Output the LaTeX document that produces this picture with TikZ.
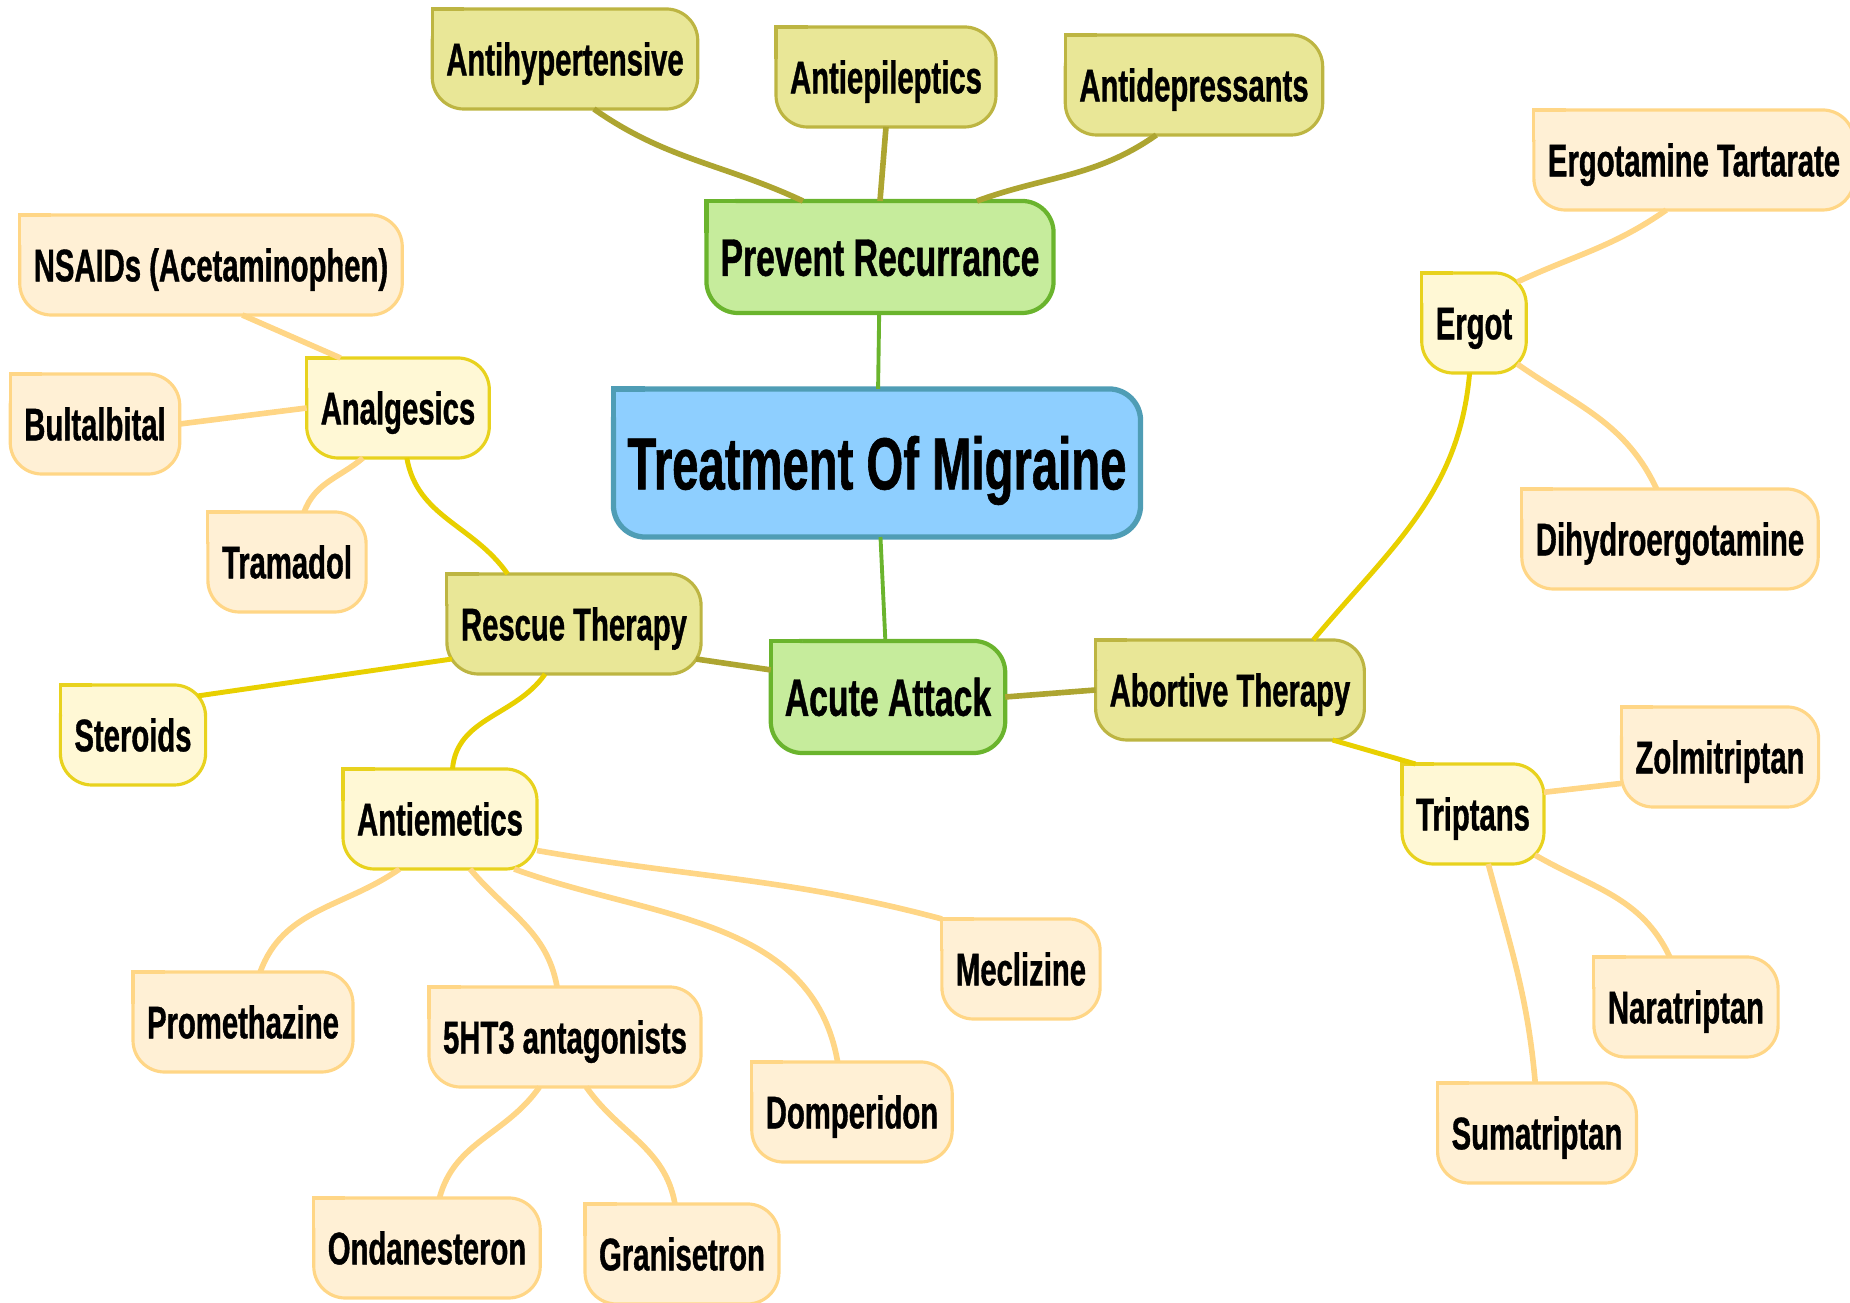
\documentclass[tikz,border=0pt]{standalone}
\usepackage{fontspec}
\setmainfont{Liberation Sans}[FakeStretch=0.64, BoldFeatures={FakeBold=0.8}]
\usepackage{tikz}
\definecolor{rootfill}{HTML}{8ECFFF}
\definecolor{rootline}{HTML}{4F9DB5}
\definecolor{branchfill}{HTML}{C6EC9C}
\definecolor{branchline}{HTML}{6AB42D}
\definecolor{topicfill}{HTML}{E9E797}
\definecolor{topicline}{HTML}{BDB542}
\definecolor{subfill}{HTML}{FFF8D5}
\definecolor{subline}{HTML}{E8D21E}
\definecolor{leaffill}{HTML}{FFF0D5}
\definecolor{leafline}{HTML}{FFD686}
\definecolor{olivelink}{HTML}{ADA531}
\definecolor{yellowlink}{HTML}{E8D000}
\tikzset{
  mapbox/.style={rectangle, rounded corners=9pt, line width=0.9pt, outer sep=0pt,
    font=\bfseries\fontsize{13}{15}\selectfont, inner xsep=4pt,
    minimum height=1cm, text height=12.3pt, text depth=3pt},
  root/.style={mapbox, fill=rootfill, draw=rootline, line width=1.5pt,
    font=\bfseries\fontsize{21}{25}\selectfont, inner xsep=4pt,
    minimum height=1.48cm, text height=20pt, text depth=5pt},
  branch/.style={mapbox, fill=branchfill, draw=branchline, line width=1.2pt,
    font=\bfseries\fontsize{15}{18}\selectfont,
    minimum height=1.12cm, text height=14.2pt, text depth=3.5pt},
  topic/.style={mapbox, fill=topicfill, draw=topicline},
  sub/.style={mapbox, fill=subfill, draw=subline},
  leaf/.style={mapbox, fill=leaffill, draw=leafline},
  greenlink/.style={draw=branchline, line width=1.1pt},
  olive/.style={draw=olivelink, line width=1.6pt},
  yellow/.style={draw=yellowlink, line width=1.4pt},
  peach/.style={draw=leafline, line width=1.6pt},
}
\newcommand{\sharpcorner}[2]{%
  \fill[#2, draw=none, sharp corners] (#1.north west) -- ++(0,-9pt) -- ++(9pt,9pt) -- cycle;
  \draw[#2, fill=none, sharp corners] ([yshift=-9pt]#1.north west) -- (#1.north west) -- ([xshift=9pt]#1.north west);}

\begin{document}
\begin{tikzpicture}[x=0.01cm, y=0.01cm]
        \useasboundingbox (0,0) rectangle (1850,1303);

        \node[root] (treat) at (877,840) {Treatment Of Migraine};
        \node[branch] (prevent) at (880,1046) {Prevent Recurrance};
        \node[branch] (acute) at (888,606) {Acute Attack};

        \node[topic] (antihyp) at (565,1244) {Antihypertensive};
        \node[topic] (antiepi) at (886,1226) {Antiepileptics};
        \node[topic] (antidep) at (1194,1218) {Antidepressants};
        \node[topic] (rescue) at (574,679) {Rescue Therapy};
        \node[topic] (abortive) at (1230,613) {Abortive Therapy};

        \node[sub] (analg) at (398,895) {Analgesics};
        \node[sub] (steroids) at (133,568) {Steroids};
        \node[sub] (antiem) at (440,484) {Antiemetics};
        \node[sub] (ergot) at (1474,980) {Ergot};
        \node[sub] (triptans) at (1473,489) {Triptans};

        \node[leaf] (nsaids) at (211,1038) {NSAIDs (Acetaminophen)};
        \node[leaf] (bultal) at (95,879) {Bultalbital};
        \node[leaf] (tramadol) at (287,741) {Tramadol};
        \node[leaf] (prometh) at (243,281) {Promethazine};
        \node[leaf] (fiveht) at (565,266) {5HT3 antagonists};
        \node[leaf] (meclizine) at (1021,334) {Meclizine};
        \node[leaf] (domper) at (852,191) {Domperidon};
        \node[leaf] (ondan) at (427,55) {Ondanesteron};
        \node[leaf] (granis) at (682,49) {Granisetron};
        \node[leaf] (ergotart) at (1694,1143) {Ergotamine Tartarate};
        \node[leaf] (dihydro) at (1670,764) {Dihydroergotamine};
        \node[leaf] (zolmi) at (1720,546) {Zolmitriptan};
        \node[leaf] (narat) at (1686,296) {Naratriptan};
        \node[leaf] (suma) at (1537,170) {Sumatriptan};

        \foreach \n/\s in {treat/root, prevent/branch, acute/branch,
            antihyp/topic, antiepi/topic, antidep/topic, rescue/topic, abortive/topic,
            analg/sub, steroids/sub, antiem/sub, ergot/sub, triptans/sub,
            nsaids/leaf, bultal/leaf, tramadol/leaf, prometh/leaf, fiveht/leaf,
            meclizine/leaf, domper/leaf, ondan/leaf, granis/leaf, ergotart/leaf,
            dihydro/leaf, zolmi/leaf, narat/leaf, suma/leaf}
          \sharpcorner{\n}{\s};

        \draw[greenlink] (treat) -- (prevent);
        \draw[greenlink] (treat) -- (acute);

        \draw[olive] (prevent.144) to[out=155,in=-35] (antihyp.-60);
        \draw[olive] (prevent.north) -- (antiepi.south);
        \draw[olive] (prevent.30) to[out=20,in=-145] (antidep.-127);
        \draw[olive] (acute.167) -- ([shift={(-5,15)}]rescue.south east);
        \draw[olive] (acute.east) -- (abortive.west);

        \draw[yellow] (rescue.143) to[out=125,in=-80] (analg.-80);
        \draw[yellow] ([shift={(5,15)}]rescue.south west) -- ([shift={(-8,-11)}]steroids.north east);
        \draw[yellow] (rescue.240) to[out=235,in=85] (antiem.76);
        \draw[yellow] (abortive.31) to[out=50,in=-95] (ergot.-95);
        \draw[yellow] (abortive.-26) -- (triptans.139);

        \draw[peach] (analg.139) -- (nsaids.-58);
        \draw[peach] (analg.west) -- (bultal.east);
        \draw[peach] (analg.235) to[out=-140,in=70] (tramadol.71);
        \draw[peach] (antiem.-129) to[out=-145,in=70] (prometh.71);
        \draw[peach] (antiem.-59) to[out=-50,in=100] (fiveht.99);
        \draw[peach] (antiem.-34) to[out=-20,in=100] (domper.106);
        \draw[peach] (antiem.-18) to[out=-10,in=165] (meclizine.north west);
        \draw[peach] (fiveht.-117) to[out=-125,in=75] (ondan.76);
        \draw[peach] (fiveht.-67) to[out=-55,in=100] (granis.98);
        \draw[peach] ([shift={(-9,-9)}]ergot.north east) to[out=25,in=-145] (ergotart.-119);
        \draw[peach] ([shift={(-9,9)}]ergot.south east) to[out=-35,in=115] (dihydro.105);
        \draw[peach] (triptans.17) -- (zolmi.195);
        \draw[peach] ([shift={(-9,9)}]triptans.south east) to[out=-30,in=115] (narat.108);
        \draw[peach] (triptans.-73) to[out=-75,in=95] (suma.92);
\end{tikzpicture}
\end{document}
